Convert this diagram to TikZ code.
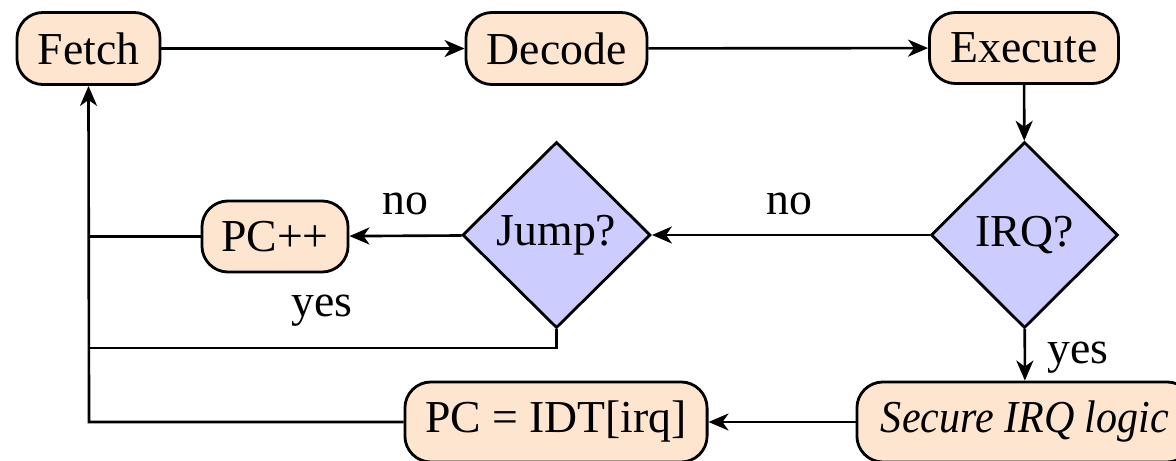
\documentclass[tikz,border=0pt]{standalone}
\usepackage{graphicx}
\usepackage{fontspec}
\setmainfont{Liberation Serif}
\usetikzlibrary{shapes.geometric,arrows.meta}
\definecolor{boxfill}{HTML}{FDE5CF}
\definecolor{decfill}{HTML}{CCCCFF}
\tikzset{
  stepbox/.style={draw=black, line width=0.8pt, fill=boxfill, rounded corners=0.26cm, inner sep=0pt, font=\fontsize{13}{15}\selectfont},
  decbox/.style={draw=black, line width=0.8pt, fill=decfill, diamond, aspect=1, inner sep=0pt, font=\fontsize{13}{15}\selectfont},
  lbl/.style={inner sep=0pt, anchor=base west, font=\fontsize{13}{15}\selectfont},
  conn/.style={line width=0.75pt},
  arr/.style={conn, -{Stealth[length=0.2cm, width=0.17cm, inset=0.06cm]}}
}
\begin{document}
\begin{tikzpicture}[x=0.01cm, y=-0.01cm]
\useasboundingbox (0,0) rectangle (1176,461);
\node[stepbox, minimum width=1.43cm, minimum height=0.72cm] (fetch) at (88.5,48.5) {Fetch};
\node[stepbox, minimum width=1.81cm, minimum height=0.72cm] (decode) at (556.5,48.5) {Decode};
\node[stepbox, minimum width=1.89cm, minimum height=0.71cm] (exec) at (1024,48) {Execute};
\node[decbox, minimum width=1.87cm, minimum height=1.86cm] (irq) at (1024.5,235) {IRQ?};
\node[decbox, minimum width=1.88cm, minimum height=1.86cm] (jump) at (556.5,235) {Jump?};
\node[stepbox, minimum width=1.46cm, minimum height=0.71cm] (pcpp) at (275,236.5) {PC++};
\node[stepbox, minimum width=3.36cm, minimum height=0.80cm] (secure) at (1025,422) {\scalebox{0.92}[1]{\itshape Secure IRQ logic}};
\node[stepbox, minimum width=3.02cm, minimum height=0.80cm] (idt) at (556,422) {PC = IDT[irq]};
\coordinate (cIdt) at (89,422);
\coordinate (cPc) at (89,236.5);
\coordinate (cJd) at (556.5,348);
\coordinate (cJl) at (89,348);
\draw[arr] (fetch) -- (decode);
\draw[arr] (decode) -- (exec);
\draw[arr] (exec) -- (irq);
\draw[arr] (irq) -- (jump);
\draw[arr] (jump) -- (pcpp);
\draw[arr] (irq) -- (secure);
\draw[arr] (secure) -- (idt);
\draw[arr] (idt.west) -- (cIdt) -- (fetch.south);
\draw[conn] (pcpp.west) -- (cPc);
\draw[conn] (jump.south) -- (cJd) -- (cJl);
\node[lbl] (noA) at (766,215) {no};
\node[lbl] (noB) at (382,215) {no};
\node[lbl] (yesA) at (291,316) {yes};
\node[lbl] (yesB) at (1047,363) {yes};
\end{tikzpicture}
\end{document}
